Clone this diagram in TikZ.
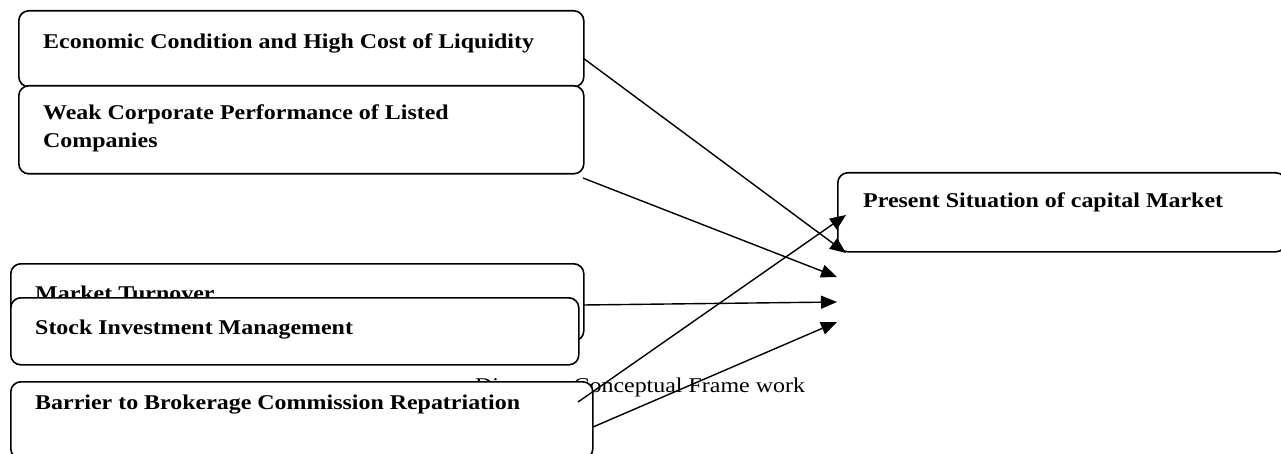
\documentclass[tikz,border=0pt]{standalone}
\usepackage{fontspec}
\setmainfont{Liberation Serif}[FakeStretch=1.14]
\usetikzlibrary{arrows.meta}
\begin{document}
\begin{tikzpicture}[x=1pt,y=-1pt,
  box/.style={draw, line width=1.6pt, rounded corners=10pt, fill=white, inner sep=0pt, anchor=north west},
  lbl/.style={inner sep=0pt, anchor=base west, font=\fontsize{21}{28}\selectfont\bfseries, align=left},
  captext/.style={inner sep=0pt, anchor=base west, font=\fontsize{21}{28}\selectfont},
  conn/.style={line width=1.4pt, -{Triangle[length=16pt,width=13pt]}}]
\useasboundingbox (0,0) rectangle (1281,454);
% boxes on the left
\node[box, minimum width=565pt, minimum height=76pt] (econ) at (18,10) {};
\node[lbl] (econt) at (43,49) {Economic Condition and High Cost of Liquidity};
\node[box, minimum width=565pt, minimum height=88pt] (weak) at (18,85) {};
\node[lbl] (weakt) at (43,148) {Weak Corporate Performance of Listed\\Companies};
\node[box, minimum width=573pt, minimum height=77pt] (market) at (10,263) {};
\node[lbl] (markett) at (35,300) {Market Turnover};
\node[box, minimum width=568pt, minimum height=67pt] (stock) at (10,297) {};
\node[lbl] (stockt) at (35,334) {Stock Investment Management};
\node[captext] (caption) at (475,392) {Diagram: Conceptual Frame work};
\node[box, minimum width=582pt, minimum height=77pt] (barrier) at (10,381) {};
\node[lbl] (barriert) at (35,409) {Barrier to Brokerage Commission Repatriation};
% target box
\node[box, minimum width=448pt, minimum height=79pt] (present) at (837,172) {};
\node[lbl] (presentt) at (863,208) {Present Situation of capital Market};
% connector ends
\coordinate (s1) at (583,58);
\coordinate (s2) at (583,178);
\coordinate (s3) at (583,305);
\coordinate (s4) at (578,402);
\coordinate (s5) at (593,427);
\coordinate (t1) at (846,253);
\coordinate (t2) at (837,277);
\coordinate (t3) at (837,302);
\coordinate (t4) at (846,215);
\coordinate (t5) at (837,322);
\draw[conn] (s1) -- (t1);
\draw[conn] (s2) -- (t2);
\draw[conn] (s3) -- (t3);
\draw[conn] (s4) -- (t4);
\draw[conn] (s5) -- (t5);
\end{tikzpicture}
\end{document}
